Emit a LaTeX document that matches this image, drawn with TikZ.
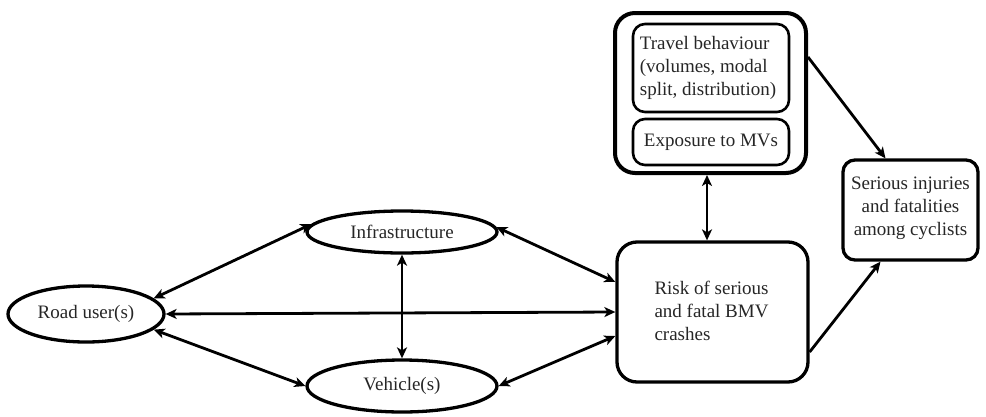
\documentclass[tikz,border=0pt]{standalone}
\usepackage{fontspec}
\setmainfont{Liberation Serif}
\usetikzlibrary{arrows.meta,shapes.geometric}
\begin{document}
\begin{tikzpicture}[x=1pt,y=-1pt,
  txt/.style={font=\fontsize{19}{23}\selectfont, text=black!85},
  ell/.style={ellipse, draw, line width=3.3pt, inner sep=0pt, txt},
  rbox/.style={draw, line width=3.3pt, rounded corners=20pt, inner sep=0pt},
  ibox/.style={draw, line width=2.6pt, rounded corners=12pt, inner sep=0pt},
  tip/.style={Stealth[length=11pt,width=10pt,inset=3pt]},
  arr/.style={line width=2.8pt, -{Stealth[length=11pt,width=10pt,inset=3pt]}},
  darr/.style={line width=2.8pt, {Stealth[length=11pt,width=10pt,inset=3pt]}-{Stealth[length=11pt,width=10pt,inset=3pt]}}
]
\useasboundingbox (0,0) rectangle (986,416);
% ellipses
\node[ell, minimum width=156pt, minimum height=56pt] (road) at (86,314) {Road user(s)};
\node[ell, minimum width=190pt, minimum height=42pt] (infra) at (402,232) {Infrastructure};
\node[ell, minimum width=190pt, minimum height=52pt] (veh) at (402,386) {Vehicle(s)};
% risk box
\node[rbox, minimum width=191pt, minimum height=140pt] (risk) at (712.5,312) {};
\node[txt, align=left, anchor=west] (risktxt) at (651,311) {Risk of serious\\and fatal BMV\\crashes};
% travel box
\node[rbox, line width=4pt, minimum width=191pt, minimum height=160pt] (travel) at (710.5,93) {};
\node[ibox, minimum width=156pt, minimum height=88pt] (tb) at (711,68) {};
\node[txt, align=left] (tbtxt) at (708,68) {Travel behaviour\\(volumes, modal\\split, distribution)};
\node[ibox, minimum width=156pt, minimum height=46pt, txt] (exp) at (711,142) {Exposure to MVs};
% injuries box
\node[draw, line width=3.3pt, rounded corners=12pt, inner sep=0pt, minimum width=135pt, minimum height=100pt] (inj) at (910.5,210) {};
\node[txt, align=center] (injtxt) at (910.5,208) {Serious injuries\\and fatalities\\among cyclists};
% connectors
\draw[darr] (road.13) -- (infra.175);
\draw[darr] (road.east) -- (risk.west);
\draw[darr] (road.-13) -- (veh.west);
\draw[darr] (infra.south) -- (veh.north);
\draw[darr] (infra.3) -- ([yshift=30pt]risk.west);
\draw[darr] (veh.east) -- ([yshift=-24pt]risk.west);
\draw[darr] ([xshift=-3.5pt]travel.south) -- ([xshift=-5.5pt]risk.north);
\draw[arr] ([yshift=36pt]travel.east) -- ([xshift=-25pt]inj.north);
\draw[arr] ([yshift=-40pt]risk.east) -- ([xshift=-30pt]inj.south);
\end{tikzpicture}
\end{document}
